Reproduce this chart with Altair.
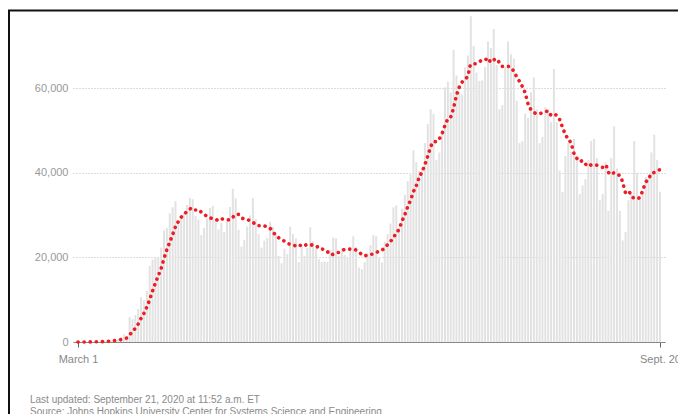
import altair as alt
import pandas as pd

# Daily new cases, March 1 - Sept. 20, 2020
march = [7, 23, 20, 31, 68, 45, 140, 116, 65, 376, 322, 382, 516, 548, 772, 1133,
         1789, 1362, 5894, 5423, 6389, 7787, 10571, 9893, 12038, 18058, 19500,
         19821, 19900, 22300, 26341]
april = [26900, 30390, 31824, 33267, 28200, 29595, 30551, 32387, 34122, 33752,
         29861, 28917, 25306, 26945, 29164, 31667, 32165, 29057, 26612, 28123,
         25985, 28486, 31900, 36188, 33955, 26543, 22541, 24132, 27326, 29917]
may = [34037, 29078, 25501, 22335, 23976, 24634, 28420, 27227, 25621, 20329,
       18621, 22048, 20782, 27246, 25508, 24487, 18873, 22630, 20342, 22207,
       27125, 23767, 22113, 19608, 18929, 19064, 18910, 21817, 24707, 24487, 20280]
june = [22153, 20562, 19973, 21500, 25000, 22500, 17600, 17200, 18900, 21000,
        22900, 25300, 25000, 19900, 18800, 23700, 25500, 28000, 31800, 32300,
        27000, 31500, 34800, 38000, 39600, 45300, 42500, 40500, 40900, 47000]
july = [51500, 55000, 53900, 43000, 44800, 50000, 60200, 61500, 59000, 69000,
        63000, 59000, 58500, 64900, 67700, 77000, 70000, 63700, 61700, 61800,
        65000, 71000, 69500, 74000, 65500, 55000, 56000, 65000, 71000, 68000, 67000]
august = [57000, 47000, 47500, 54000, 53000, 59000, 62500, 55000, 47000, 48500,
          55500, 55000, 52000, 64500, 52000, 40500, 35500, 44000, 47000, 45000,
          48000, 44000, 35000, 37000, 38500, 43000, 47500, 48000, 43500, 33500, 35000]
september = [42500, 31000, 43500, 51000, 41000, 31000, 24000, 26000, 33500, 35000,
             47500, 40000, 34000, 35000, 39000, 38700, 44800, 49000, 43000, 35500]

cases = march + april + may + june + july + august + september
dates = pd.date_range("2020-03-01", "2020-09-20", freq="D").strftime("%Y-%m-%d").tolist()

y_ticks = [0, 20000, 40000, 60000]
x_start_label = "March 1"
x_end_label = "Sept. 20"
footer_updated = "Last updated: September 21, 2020 at 11:52 a.m. ET"
footer_source = "Source: Johns Hopkins University Center for Systems Science and Engineering"

df = pd.DataFrame({"date": dates, "cases": cases})
one = pd.DataFrame({"k": [0]})

FONT = "Liberation Sans"
d0 = alt.DateTime(year=2020, month=3, date=1, utc=True)
d1 = alt.DateTime(year=2020, month=9, date=20, utc=True)

x_enc = alt.X(
    "date:T",
    scale=alt.Scale(type="utc", domain=[d0, d1]),
    axis=alt.Axis(
        values=[d0, d1],
        labelExpr=f"utcmonth(datum.value) == 2 ? '{x_start_label}' : '{x_end_label}'",
        title=None,
        grid=False,
        ticks=True,
        tickSize=5,
        tickColor="#666666",
        domainColor="#888888",
        labelColor="#888888",
        labelFontSize=11,
        labelFont=FONT,
        labelFlush=False,
        labelPadding=6,
    ),
)
y_enc = alt.Y(
    "cases:Q",
    scale=alt.Scale(domain=[0, 78000], nice=False),
    axis=alt.Axis(
        values=y_ticks,
        format=",.0f",
        title=None,
        domain=False,
        ticks=False,
        grid=True,
        gridDash=[1, 2],
        gridColor="#bbbbbb",
        labelColor="#999999",
        labelFontSize=11,
        labelFont=FONT,
        labelPadding=5,
    ),
)

bars = alt.Chart(df).mark_bar(color="#e2e2e2", width=2).encode(x=x_enc, y=y_enc)

line = (
    alt.Chart(df)
    .transform_window(avg="mean(cases)", frame=[-6, 0], sort=[alt.SortField("date")])
    .mark_line(
        color="#ee1c25",
        strokeWidth=3.6,
        strokeDash=[0.1, 6],
        strokeCap="round",
        interpolate="monotone",
    )
    .encode(x=alt.X("date:T"), y=alt.Y("avg:Q"))
)

frame_left = alt.Chart(one).mark_rule(color="#111111", strokeWidth=2, clip=False).encode(
    x=alt.value(-64), y=alt.value(-1.5), y2=alt.value(410)
)
frame_top = alt.Chart(one).mark_rule(color="#111111", strokeWidth=2, clip=False).encode(
    x=alt.value(-65), x2=alt.value(610), y=alt.value(-1.5)
)

foot1 = alt.Chart(one).mark_text(
    align="left", baseline="middle", font=FONT, fontSize=10, color="#8a8a8a"
).encode(x=alt.value(-43), y=alt.value(388), text=alt.value(footer_updated))
foot2 = alt.Chart(one).mark_text(
    align="left", baseline="middle", font=FONT, fontSize=10, color="#8a8a8a"
).encode(x=alt.value(-43), y=alt.value(400), text=alt.value(footer_source))

chart = (
    alt.layer(bars, line, frame_left, frame_top, foot1, foot2)
    .properties(
        width=592,
        height=330,
        autosize=alt.AutoSizeParams(type="none"),
        padding={"left": 65, "top": 4, "right": 13, "bottom": 72},
        background="white",
    )
    .configure_view(stroke=None)
)

chart.save("out.html", embed_options={"renderer": "svg", "actions": False})
